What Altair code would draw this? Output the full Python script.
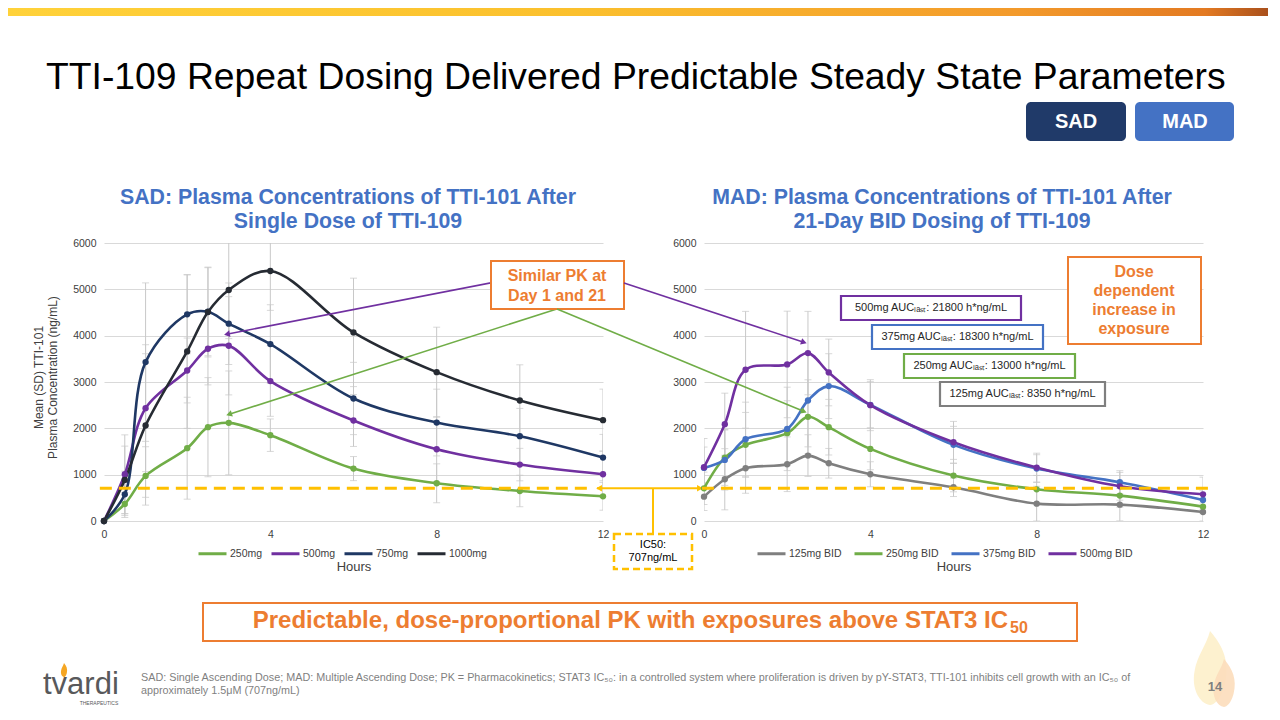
import altair as alt
import pandas as pd

FONT = "Liberation Sans"

hours = [0, 0.5, 1, 2, 2.5, 3, 4, 6, 8, 10, 12]

# SAD: single dose, mean and SD (ng/mL)
sad_doses = ["250mg", "500mg", "750mg", "1000mg"]
sad_colors = ["#70AD47", "#7030A0", "#1F3864", "#262B33"]
sad_250 = [0, 367, 973, 1571, 2025, 2118, 1852, 1131, 814, 648, 533]
sad_500 = [0, 1009, 2435, 3249, 3718, 3782, 3019, 2169, 1549, 1218, 1009]
sad_750 = [0, 576, 3429, 4460, 4517, 4258, 3818, 2644, 2125, 1830, 1369]
sad_1000 = [0, 886, 2061, 3660, 4510, 4986, 5396, 4071, 3213, 2601, 2176]
sad_250_sd = [0, 250, 630, 1100, 1070, 1120, 350, 260, 420, 340, 300]
sad_500_sd = [0, 850, 1370, 700, 780, 1060, 760, 560, 700, 350, 500]
sad_750_sd = [0, 500, 1710, 850, 950, 880, 850, 780, 720, 600, 500]
sad_1000_sd = [0, 730, 1550, 1660, 970, 1050, 850, 1170, 970, 770, 670]

# MAD: day 21 BID dosing
mad_doses = ["125mg BID", "250mg BID", "375mg BID", "500mg BID"]
mad_colors = ["#7F7F7F", "#70AD47", "#4472C4", "#7030A0"]
mad_125 = [526, 901, 1138, 1225, 1412, 1246, 1009, 728, 375, 353, 195]
mad_250 = [706, 1369, 1643, 1895, 2248, 2025, 1556, 980, 684, 548, 310]
mad_375 = [1146, 1318, 1765, 1988, 2601, 2911, 2507, 1643, 1131, 836, 454]
mad_500 = [1160, 2089, 3264, 3379, 3624, 3206, 2500, 1700, 1153, 749, 576]
mad_125_sd = [300, 660, 540, 590, 450, 320, 270, 200, 375, 350, 195]
mad_250_sd = [350, 600, 700, 700, 800, 600, 450, 350, 300, 250, 150]
mad_375_sd = [450, 650, 800, 900, 1000, 700, 500, 400, 300, 250, 200]
mad_500_sd = [620, 670, 1260, 1150, 900, 720, 550, 450, 310, 300, 370]

auc_labels = [
    "500mg AUCₗₐₛₜ: 21800 h*ng/mL",
    "375mg AUCₗₐₛₜ: 18300 h*ng/mL",
    "250mg AUCₗₐₛₜ: 13000 h*ng/mL",
    "125mg AUCₗₐₛₜ: 8350 h*ng/mL",
]
auc_colors = ["#7030A0", "#4472C4", "#70AD47", "#7F7F7F"]

ic50 = 707

ORANGE = "#ED7D31"
GOLD = "#FFC000"
BLUE = "#4472C4"

ONE = pd.DataFrame({"k": [0]})
LEFT = (104, 243)   # screen position of each plot's origin
RIGHT = (704, 243)


def long_table(doses, means, sds):
    rows = []
    for d, m, s in zip(doses, means, sds):
        for h, v, e in zip(hours, m, s):
            rows.append({"hour": h, "conc": v, "lo": max(v - e, 0), "hi": v + e, "dose": d})
    return pd.DataFrame(rows)


def txt(s, X, Y, size, org, color="#000000", weight="normal", align="center",
        baseline="middle", font=FONT, **kw):
    return alt.Chart(ONE).mark_text(
        text=s, fontSize=size, color=color, fontWeight=weight, align=align,
        baseline=baseline, font=font, **kw
    ).encode(x=alt.value(X - org[0]), y=alt.value(Y - org[1]))


def box(X1, Y1, X2, Y2, org, stroke=None, fill="white", width=2, **kw):
    if stroke:
        kw["stroke"] = stroke
        kw["strokeWidth"] = width
    return alt.Chart(ONE).mark_rect(fill=fill, **kw).encode(
        x=alt.value(X1 - org[0]), x2=alt.value(X2 - org[0]),
        y=alt.value(Y1 - org[1]), y2=alt.value(Y2 - org[1]),
    )


def arrow(h1, c1, h2, c2, color, angle):
    seg = alt.Chart(ONE).mark_rule(color=color, strokeWidth=1.6).encode(
        x=alt.datum(h1), y=alt.datum(c1), x2=alt.datum(h2), y2=alt.datum(c2)
    )
    head = alt.Chart(ONE).mark_point(
        shape="triangle", filled=True, size=45, angle=angle, color=color, opacity=1
    ).encode(x=alt.datum(h2), y=alt.datum(c2))
    return seg + head


def panel(df, doses, colors, ytitle, legend_x, col_pad):
    xs = alt.Scale(domain=[0, 12], nice=False)
    ys = alt.Scale(domain=[0, 6000], nice=False)
    xa = alt.Axis(
        values=[0, 4, 8, 12], title="Hours", titleFontSize=13, titleFontWeight="normal",
        titleColor="#404040", titleY=45, titleBaseline="middle", labelFontSize=10.5,
        labelColor="#404040", labelPadding=8, ticks=False, domain=False, grid=False,
        labelFlush=False, format="d",
    )
    ya = alt.Axis(
        values=list(range(0, 6001, 1000)), title=ytitle, titleFontSize=12,
        titleFontWeight="normal", titleColor="#404040", titleX=-66, titleY=134,
        titleBaseline="middle", titleAlign="center", labelFontSize=10.5,
        labelColor="#404040", labelPadding=8, ticks=False, domain=False,
        gridColor="#D9D9D9", format="d",
    )
    leg = alt.Legend(
        orient="none", legendX=legend_x, legendY=295, direction="horizontal", title=None,
        symbolType="stroke", symbolSize=784, symbolStrokeWidth=3, labelFontSize=10.5,
        labelColor="#404040", labelFont=FONT, columnPadding=col_pad, labelOffset=2,
    )
    color = alt.Color("dose:N", scale=alt.Scale(domain=doses, range=colors), sort=doses, legend=leg)
    x = alt.X("hour:Q", scale=xs, axis=xa)
    base = alt.Chart(df)
    bars = base.mark_rule(color="#C8C8C8", strokeWidth=1, clip=True).encode(
        x=x, y=alt.Y("lo:Q", scale=ys, axis=ya), y2="hi:Q"
    )
    cap_hi = base.mark_tick(orient="horizontal", size=7, thickness=1, color="#C8C8C8", clip=True).encode(
        x=x, y=alt.Y("hi:Q", scale=ys, axis=ya)
    )
    cap_lo = base.mark_tick(orient="horizontal", size=7, thickness=1, color="#C8C8C8", clip=True).encode(
        x=x, y=alt.Y("lo:Q", scale=ys, axis=ya)
    )
    lines = base.mark_line(interpolate="catmull-rom", strokeWidth=2.6).encode(
        x=x, y=alt.Y("conc:Q", scale=ys, axis=ya), color=color
    )
    dots = base.mark_circle(size=40, opacity=1).encode(
        x=x, y=alt.Y("conc:Q", scale=ys, axis=ya), color=color
    )
    return bars + cap_hi + cap_lo + lines + dots


FLAME = ("M0,-1 C0.35,-0.6 0.55,-0.15 0.4,0.45 C0.3,0.85 0.1,1 0,1 "
         "C-0.3,0.95 -0.5,0.55 -0.42,0.1 C-0.35,-0.35 -0.1,-0.6 0,-1 Z")


def flame(X, Y, height, color, org, opacity=1.0):
    return alt.Chart(ONE).mark_point(
        shape=FLAME, filled=True, size=height * height, color=color, opacity=opacity,
        strokeWidth=0,
    ).encode(x=alt.value(X - org[0]), y=alt.value(Y - org[1]))


sad = long_table(sad_doses, [sad_250, sad_500, sad_750, sad_1000],
                 [sad_250_sd, sad_500_sd, sad_750_sd, sad_1000_sd])
mad = long_table(mad_doses, [mad_125, mad_250, mad_375, mad_500],
                 [mad_125_sd, mad_250_sd, mad_375_sd, mad_500_sd])

banner = alt.Gradient(
    gradient="linear", x1=0, x2=1, y1=0, y2=0,
    stops=[
        alt.GradientStop(color="#FFD23A", offset=0),
        alt.GradientStop(color="#FBC02D", offset=0.45),
        alt.GradientStop(color="#F39A2B", offset=0.8),
        alt.GradientStop(color="#E37A22", offset=0.95),
        alt.GradientStop(color="#A9501C", offset=1),
    ],
)

# ---------------- left (SAD) panel + slide decorations ----------------
slide = [
    # invisible frame that fixes the page extent
    box(8, 8, 1268, 706, LEFT, opacity=0),
    alt.Chart(ONE).mark_rect(fill=banner).encode(
        x=alt.value(8 - LEFT[0]), x2=alt.value(1268 - LEFT[0]),
        y=alt.value(8 - LEFT[1]), y2=alt.value(16 - LEFT[1]),
    ),
    txt("TTI-109 Repeat Dosing Delivered Predictable Steady State Parameters",
        46, 89, 37.3, LEFT, align="left", baseline="alphabetic"),
    box(1026, 102, 1126, 141, LEFT, fill="#203A69", cornerRadius=5),
    box(1135, 102, 1234, 141, LEFT, fill=BLUE, cornerRadius=5),
    txt("SAD", 1076, 122, 20, LEFT, color="white", weight="bold"),
    txt("MAD", 1185, 122, 20, LEFT, color="white", weight="bold"),
    txt("SAD: Plasma Concentrations of TTI-101 After", 348, 198, 21.3, LEFT, color=BLUE, weight="bold"),
    txt("Single Dose of TTI-109", 348, 222, 21.3, LEFT, color=BLUE, weight="bold"),
    # bottom call-out
    box(203, 603, 1077, 641, LEFT, stroke=ORANGE),
    txt("Predictable, dose-proportional PK with exposures above STAT3 IC", 1008, 621, 24, LEFT,
        color=ORANGE, weight="bold", align="right"),
    txt("50", 1010, 628, 16, LEFT, color=ORANGE, weight="bold", align="left"),
    # footer
    txt("SAD: Single Ascending Dose; MAD: Multiple Ascending Dose; PK = Pharmacokinetics; "
        "STAT3 IC₅₀: in a controlled system where proliferation is driven by pY-STAT3, "
        "TTI-101 inhibits cell growth with an IC₅₀ of", 141, 678, 10.8, LEFT,
        color="#7F7F7F", align="left"),
    txt("approximately 1.5μM (707ng/mL)", 141, 691, 10.8, LEFT, color="#7F7F7F", align="left"),
    flame(1210, 668, 74, "#FDF1CF", LEFT),
    flame(1224, 683, 48, "#FCDDBB", LEFT, opacity=0.9),
    txt("14", 1215, 687, 13, LEFT, color="#7F7F7F", weight="bold"),
    txt("tvardi", 43, 694, 31, LEFT, color="#58595B", align="left", baseline="alphabetic"),
    flame(64, 670, 14, "#F5A623", LEFT),
    txt("THERAPEUTICS", 99, 705, 5, LEFT, color="#58595B", baseline="alphabetic"),
]

left_plot = panel(sad, sad_doses, sad_colors,
                  ["Mean (SD) TTI-101", "Plasma Concentration (ng/mL)"], 93, 2)

ic50_left = alt.Chart(ONE).mark_rule(color=GOLD, strokeWidth=3, strokeDash=[12, 7]).encode(
    x=alt.datum(-0.1), x2=alt.datum(11.7), y=alt.datum(ic50)
)
ic50_link = [
    alt.Chart(ONE).mark_rule(color=GOLD, strokeWidth=2).encode(
        x=alt.value(597 - LEFT[0]), x2=alt.value(702 - LEFT[0]), y=alt.datum(ic50)
    ),
    alt.Chart(ONE).mark_rule(color=GOLD, strokeWidth=2).encode(
        x=alt.value(653 - LEFT[0]), y=alt.datum(ic50), y2=alt.value(534 - LEFT[1])
    ),
    alt.Chart(ONE).mark_point(shape="triangle", filled=True, size=45, angle=270, color=GOLD, opacity=1).encode(
        x=alt.value(600 - LEFT[0]), y=alt.datum(ic50)
    ),
    alt.Chart(ONE).mark_point(shape="triangle", filled=True, size=45, angle=90, color=GOLD, opacity=1).encode(
        x=alt.value(699 - LEFT[0]), y=alt.datum(ic50)
    ),
    box(614, 534, 692, 569, LEFT, stroke=GOLD, width=2.5, strokeDash=[7, 4]),
    txt("IC50:", 653, 545, 11, LEFT),
    txt("707ng/mL", 653, 558, 11, LEFT),
]

similar = [
    arrow(10.89, 5417, 2.98, 4036, "#7030A0", 259),
    arrow(10.89, 4576, 3.03, 2309, "#70AD47", 252),
    box(491, 261, 624, 309, LEFT, stroke=ORANGE),
    txt("Similar PK at", 557, 276, 16, LEFT, color=ORANGE, weight="bold"),
    txt("Day 1 and 21", 557, 296, 16, LEFT, color=ORANGE, weight="bold"),
]

left = alt.layer(*slide, left_plot, ic50_left, *ic50_link, *similar).properties(width=499, height=278)

# ---------------- right (MAD) panel ----------------
right_plot = panel(mad, mad_doses, mad_colors, None, 52, 6)

ic50_right = alt.Chart(ONE).mark_rule(color=GOLD, strokeWidth=3, strokeDash=[12, 7]).encode(
    x=alt.datum(-0.05), x2=alt.datum(12.24), y=alt.datum(ic50)
)

auc_boxes = []
for i, (lab, col) in enumerate(zip(auc_labels, auc_colors)):
    X1 = [841, 872, 904, 940][i]
    X2 = [1021, 1043, 1075, 1105][i]
    Y1 = [296, 325, 354, 382][i]
    auc_boxes.append(box(X1, Y1, X2, Y1 + 24, RIGHT, stroke=col, width=2.2))
    auc_boxes.append(txt(lab, (X1 + X2) / 2, Y1 + 12, 11, RIGHT, color="#262626"))

right_notes = [
    arrow(-1.924, 5137, 2.38, 3863, "#7030A0", 108),
    arrow(-3.535, 4576, 2.38, 2374, "#70AD47", 112),
    txt("MAD: Plasma Concentrations of TTI-101 After", 942, 198, 21.3, RIGHT, color=BLUE, weight="bold"),
    txt("21-Day BID Dosing of TTI-109", 942, 222, 21.3, RIGHT, color=BLUE, weight="bold"),
    box(1068, 257, 1201, 344, RIGHT, stroke=ORANGE),
    txt("Dose", 1134, 272, 16, RIGHT, color=ORANGE, weight="bold"),
    txt("dependent", 1134, 291, 16, RIGHT, color=ORANGE, weight="bold"),
    txt("increase in", 1134, 310, 16, RIGHT, color=ORANGE, weight="bold"),
    txt("exposure", 1134, 329, 16, RIGHT, color=ORANGE, weight="bold"),
]

right = alt.layer(right_plot, ic50_right, *right_notes, *auc_boxes).properties(width=499, height=278)

chart = (
    alt.hconcat(left, right, spacing=101, bounds="flush")
    .resolve_scale(color="independent")
    .properties(padding=0, background="white")
    .configure(font=FONT)
    .configure_view(stroke=None)
)

chart.save("out.html", embed_options={"renderer": "svg", "actions": False})
